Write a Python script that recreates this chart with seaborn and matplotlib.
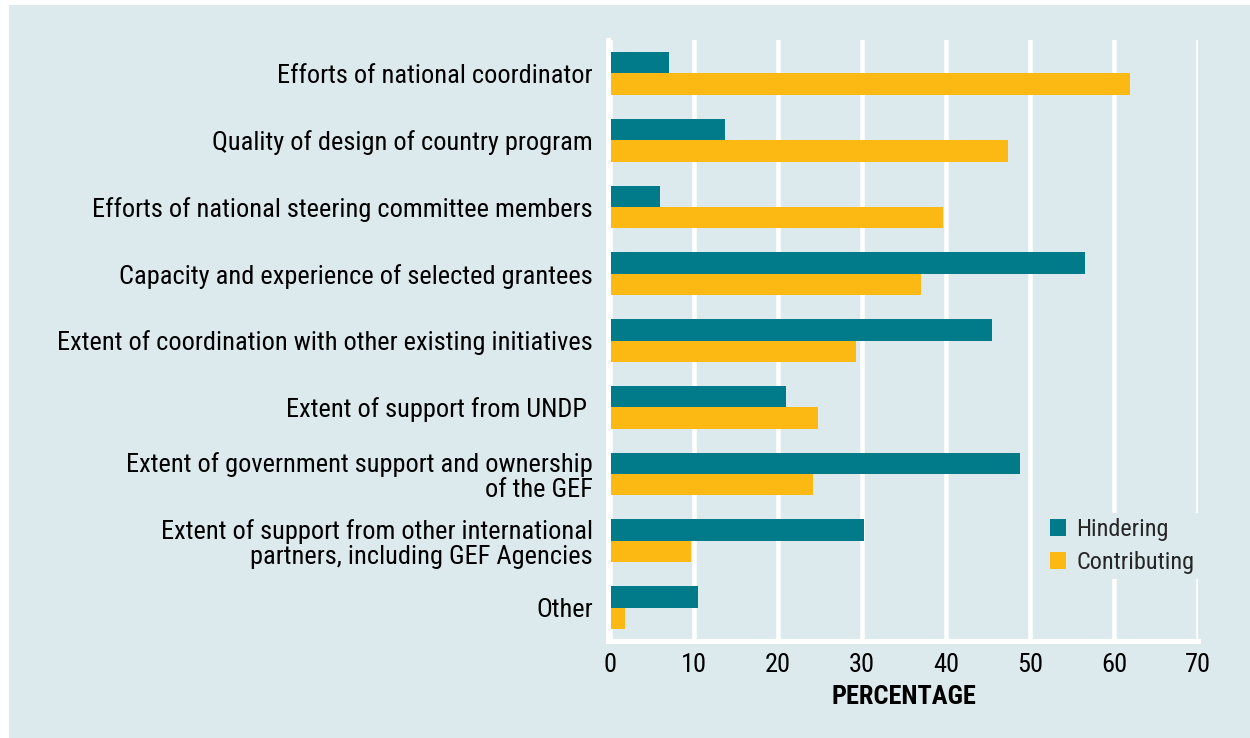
import matplotlib
matplotlib.use("Agg")
import matplotlib.pyplot as plt
from matplotlib.patches import Rectangle, Patch
import pandas as pd
import seaborn as sns

categories = [
    "Efforts of national coordinator",
    "Quality of design of country program",
    "Efforts of national steering committee members",
    "Capacity and experience of selected grantees",
    "Extent of coordination with other existing initiatives",
    "Extent of support from UNDP ",
    "Extent of government support and ownership\nof the GEF",
    "Extent of support from other international\npartners, including GEF Agencies",
    "Other",
]
hindering = [7.0, 13.7, 6.0, 56.5, 45.5, 21.0, 48.8, 30.2, 10.5]
contributing = [61.9, 47.4, 39.6, 37.0, 29.3, 24.8, 24.2, 9.6, 1.8]
series_names = ["Hindering", "Contributing"]
x_ticks = [0, 10, 20, 30, 40, 50, 60, 70]
x_label = "PERCENTAGE"

BG = "#dce9ed"
TEAL = "#017b8a"
GOLD = "#fdb913"
FS = 19

sns.set_theme(style="white")
plt.rcParams["font.family"] = ["Roboto Condensed", "DejaVu Sans"]

df = pd.DataFrame({
    "category": categories * 2,
    "value": hindering + contributing,
    "series": [series_names[0]] * len(categories) + [series_names[1]] * len(categories),
})

fig = plt.figure(figsize=(12.5, 7.38), dpi=100, facecolor="white")
fig.patches.append(Rectangle((9 / 1250, 0), 1, 1 - 5 / 738, transform=fig.transFigure,
                             facecolor=BG, edgecolor="none", zorder=-10))
ax = fig.add_axes([610 / 1250, 1 - 641 / 738, (1198 - 610) / 1250, (641 - 40) / 738])
ax.set_facecolor(BG)

sns.barplot(data=df, y="category", x="value", hue="series", hue_order=series_names,
            palette=[TEAL, GOLD], orient="h", width=0.64, gap=0, saturation=1,
            order=categories, ax=ax, legend=False, edgecolor="none", linewidth=0)

ax.set_xlim(0, 70)
ax.set_ylim(len(categories) - 0.5, -0.5)
ax.set_xticks(x_ticks)
ax.set_xticklabels([str(t) for t in x_ticks])
ax.set_axisbelow(True)
ax.xaxis.grid(True, color="white", linewidth=3.3)
ax.yaxis.grid(False)
for s in ["top", "right"]:
    ax.spines[s].set_visible(False)
for s in ["left", "bottom"]:
    ax.spines[s].set_visible(True)
    ax.spines[s].set_color("white")
    ax.spines[s].set_linewidth(3.6)
ax.spines["left"].set_position(("outward", 1.8))
ax.spines["left"].set_bounds(-0.5, 8.5)
ax.tick_params(axis="both", length=0, labelsize=FS, colors="black")
ax.tick_params(axis="y", pad=10.5)
ax.tick_params(axis="x", pad=8.5)
for lbl in ax.get_yticklabels():
    lbl.set_linespacing(1.05)
ax.set_ylabel("")
ax.set_xlabel(x_label, fontsize=FS, fontweight="bold", labelpad=6, color="black")

handles = [Patch(facecolor=TEAL, edgecolor="none"), Patch(facecolor=GOLD, edgecolor="none")]
leg = ax.legend(handles, series_names, loc="upper left",
                bbox_to_anchor=(1045 / 1250, 1 - 513 / 738), bbox_transform=fig.transFigure,
                fontsize=17.5, frameon=True, facecolor=BG, edgecolor="none", framealpha=1,
                handlelength=0.66, handleheight=0.66, handletextpad=0.42, labelspacing=0.42,
                borderpad=0.2, borderaxespad=0, fancybox=False)

fig.savefig("out.png", dpi=100, facecolor=fig.get_facecolor())
